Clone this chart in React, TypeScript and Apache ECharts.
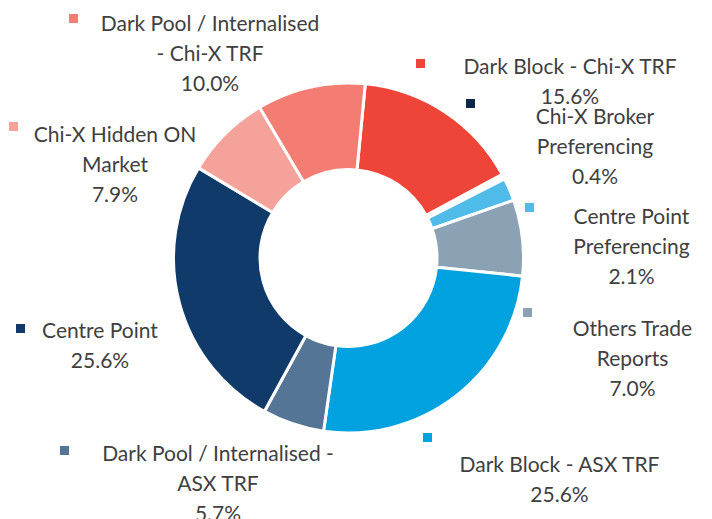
import React, { useEffect, useRef } from "react";
import * as echarts from "echarts";

// Data (clockwise order, starting near 12 o'clock)
const NAMES = [
  "Dark Block - Chi-X TRF",
  "Chi-X Broker Preferencing",
  "Centre Point Preferencing",
  "Others Trade Reports",
  "Dark Block - ASX TRF",
  "Dark Pool / Internalised - ASX TRF",
  "Centre Point",
  "Chi-X Hidden ON Market",
  "Dark Pool / Internalised - Chi-X TRF",
];
const VALUES = [15.6, 0.4, 2.1, 7.0, 25.6, 5.7, 25.6, 7.9, 10.0];
const LABEL_TEXT = [
  "Dark Block - Chi-X TRF",
  "Chi-X Broker\nPreferencing",
  "Centre Point\nPreferencing",
  "Others Trade\nReports",
  "Dark Block - ASX TRF",
  "Dark Pool / Internalised -\nASX TRF",
  "Centre Point",
  "Chi-X Hidden ON\nMarket",
  "Dark Pool / Internalised\n- Chi-X TRF",
];
const COLORS = [
  "#EF4538",
  "#0C2646",
  "#4FBBE8",
  "#8BA1B4",
  "#00A1DF",
  "#557597",
  "#0F3A69",
  "#F5A29B",
  "#F37C73",
];

// Layout (label block centres and legend-key squares)
const LABEL_POS: [number, number][] = [
  [570, 80],
  [595, 145.5],
  [631.5, 245.5],
  [632.5, 357.5],
  [559.5, 478],
  [218, 482],
  [100, 344.5],
  [115, 163.5],
  [210, 52.5],
];
const MARKER_POS: [number, number][] = [
  [416, 59],
  [466, 99],
  [525, 203],
  [523, 308],
  [423, 433],
  [60, 446],
  [16, 324],
  [9, 122],
  [69, 14],
];

const FONT = "Lato";
const TEXT_COLOR = "#404040";

export default function App() {
  const ref = useRef<HTMLDivElement>(null);
  useEffect(() => {
    if (!ref.current) return;
    const chart = echarts.init(ref.current, undefined, { renderer: "svg" });
    chart.setOption({
      animation: false,
      backgroundColor: "#ffffff",
      series: [
        {
          type: "pie",
          center: [348.5, 258],
          radius: [88.5, 175],
          startAngle: 84.5,
          clockwise: true,
          avoidLabelOverlap: false,
          itemStyle: { borderColor: "#ffffff", borderWidth: 3 },
          label: {
            show: true,
            position: "outside",
            fontFamily: FONT,
            fontSize: 21,
            lineHeight: 30,
            color: TEXT_COLOR,
            align: "center",
            formatter: (p: any) =>
              `${LABEL_TEXT[p.dataIndex]}\n${Number(p.value).toFixed(1)}%`,
          },
          labelLine: { show: false },
          labelLayout: (p: any) => ({
            x: LABEL_POS[p.dataIndex][0],
            y: LABEL_POS[p.dataIndex][1],
            align: "center",
            verticalAlign: "middle",
            hideOverlap: false,
            moveOverlap: null,
          }),
          emphasis: { disabled: true },
          data: NAMES.map((n, i) => ({
            name: n,
            value: VALUES[i],
            itemStyle:
              VALUES[i] < 1
                ? { color: COLORS[i], borderWidth: 4.5 }
                : { color: COLORS[i] },
          })),
        },
      ],
      graphic: MARKER_POS.map((m, i) => ({
        type: "rect",
        shape: { x: m[0], y: m[1], width: 9, height: 9 },
        style: { fill: COLORS[i] },
        silent: true,
      })),
    });
    return () => chart.dispose();
  }, []);
  return (
    <div
      ref={ref}
      style={{ position: "fixed", left: 0, top: 0, width: 712, height: 519 }}
    />
  );
}
